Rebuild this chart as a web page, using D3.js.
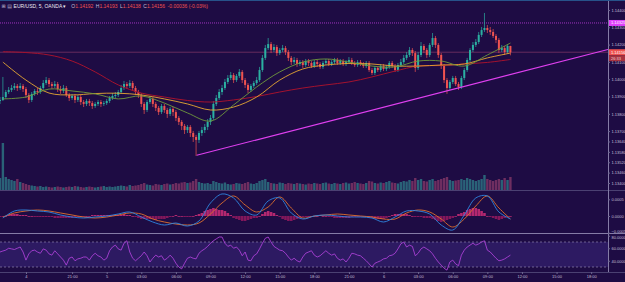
<!DOCTYPE html>
<html>
<head>
<meta charset="utf-8">
<script src="https://cdn.jsdelivr.net/npm/d3@7"></script>
<style>
  html, body { margin: 0; padding: 0; background: #1e0c44; }
  svg { display: block; }
  text { font-family: "Liberation Sans", Arial, sans-serif; }
</style>
</head>
<body>
<svg width="625" height="282"></svg>
<script>
// EUR/USD bars, time in hours counted from the Sunday 17:00 open
var firstHour = -2.25, barHours = 0.25;
var firstOpen = 1.13874;

var closes = [
  1.13880,1.13897,1.13926,1.13938,1.13949,1.13961,1.13949,1.13961,1.13943,1.13909,
  1.13880,1.13915,1.13932,1.13926,1.13949,1.13978,1.13995,1.13972,1.13961,1.13972,
  1.13943,1.13932,1.13949,1.13909,1.13891,1.13903,1.13880,1.13897,1.13868,1.13857,
  1.13874,1.13862,1.13845,1.13857,1.13868,1.13857,1.13862,1.13874,1.13891,1.13903,
  1.13909,1.13926,1.13949,1.13972,1.13961,1.13978,1.13949,1.13926,1.13909,1.13857,
  1.13822,1.13868,1.13886,1.13857,1.13834,1.13810,1.13845,1.13822,1.13799,1.13828,
  1.13810,1.13776,1.13753,1.13730,1.13706,1.13724,1.13689,1.13666,1.13649,1.13689,
  1.13706,1.13724,1.13753,1.13776,1.13857,1.13891,1.13926,1.13949,1.13984,1.14007,
  1.14024,1.13995,1.14019,1.14042,1.13995,1.13967,1.13938,1.13961,1.13978,1.13995,
  1.14053,1.14123,1.14180,1.14203,1.14169,1.14186,1.14151,1.14169,1.14180,1.14157,
  1.14123,1.14099,1.14111,1.14088,1.14099,1.14082,1.14105,1.14094,1.14076,1.14099,
  1.14088,1.14071,1.14094,1.14105,1.14088,1.14099,1.14111,1.14094,1.14105,1.14088,
  1.14099,1.14111,1.14094,1.14082,1.14099,1.14088,1.14076,1.14094,1.14053,1.14036,
  1.14065,1.14053,1.14076,1.14059,1.14071,1.14094,1.14076,1.14053,1.14082,1.14099,
  1.14123,1.14140,1.14169,1.14151,1.14065,1.14140,1.14192,1.14169,1.14140,1.14198,
  1.14238,1.14198,1.14140,1.14076,1.13995,1.13949,1.13984,1.14007,1.13972,1.13955,
  1.14007,1.14053,1.14111,1.14169,1.14198,1.14215,1.14256,1.14284,1.14296,1.14284,
  1.14273,1.14250,1.14227,1.14169,1.14180,1.14157,1.14192,1.14156];

var highs = [
  1.13897,1.14013,1.13938,1.13955,1.13967,1.13978,1.13972,1.13978,1.13972,1.13955,
  1.13920,1.13926,1.13943,1.13949,1.13961,1.13995,1.14013,1.14007,1.13984,1.13990,
  1.13984,1.13961,1.13967,1.13961,1.13920,1.13915,1.13915,1.13909,1.13909,1.13880,
  1.13886,1.13886,1.13874,1.13868,1.13880,1.13880,1.13874,1.13886,1.13903,1.13920,
  1.13926,1.13938,1.13967,1.13990,1.13984,1.13995,1.13990,1.13961,1.13938,1.13920,
  1.13868,1.13880,1.13903,1.13897,1.13868,1.13845,1.13857,1.13857,1.13834,1.13839,
  1.13839,1.13822,1.13787,1.13764,1.13741,1.13735,1.13735,1.13701,1.13678,1.13701,
  1.13724,1.13741,1.13770,1.13793,1.13874,1.13909,1.13943,1.13967,1.14001,1.14024,
  1.14042,1.14036,1.14030,1.14059,1.14053,1.14007,1.13978,1.13972,1.13990,1.14013,
  1.14071,1.14140,1.14198,1.14238,1.14215,1.14203,1.14198,1.14180,1.14198,1.14192,
  1.14169,1.14134,1.14128,1.14123,1.14111,1.14111,1.14117,1.14117,1.14105,1.14111,
  1.14111,1.14099,1.14105,1.14117,1.14117,1.14111,1.14123,1.14123,1.14117,1.14117,
  1.14111,1.14128,1.14123,1.14105,1.14111,1.14111,1.14099,1.14105,1.14105,1.14065,
  1.14076,1.14076,1.14088,1.14088,1.14082,1.14105,1.14105,1.14088,1.14094,1.14117,
  1.14140,1.14157,1.14186,1.14180,1.14163,1.14157,1.14215,1.14203,1.14180,1.14209,
  1.14267,1.14250,1.14209,1.14151,1.14088,1.14007,1.13995,1.14019,1.14019,1.13984,
  1.14019,1.14065,1.14123,1.14180,1.14215,1.14232,1.14273,1.14302,1.14383,1.14313,
  1.14302,1.14290,1.14261,1.14238,1.14198,1.14192,1.14203,1.14193];

var lows = [
  1.13857,1.13874,1.13886,1.13915,1.13926,1.13938,1.13932,1.13938,1.13926,1.13891,
  1.13862,1.13868,1.13903,1.13909,1.13915,1.13938,1.13967,1.13955,1.13943,1.13949,
  1.13926,1.13915,1.13920,1.13897,1.13874,1.13880,1.13862,1.13868,1.13851,1.13839,
  1.13845,1.13845,1.13828,1.13834,1.13845,1.13839,1.13845,1.13851,1.13862,1.13880,
  1.13891,1.13897,1.13915,1.13938,1.13943,1.13949,1.13932,1.13909,1.13891,1.13839,
  1.13799,1.13810,1.13857,1.13839,1.13816,1.13793,1.13799,1.13805,1.13776,1.13787,
  1.13787,1.13758,1.13735,1.13706,1.13683,1.13689,1.13666,1.13637,1.13556,1.13631,
  1.13672,1.13689,1.13706,1.13735,1.13764,1.13845,1.13880,1.13909,1.13938,1.13972,
  1.13995,1.13978,1.13984,1.14007,1.13978,1.13949,1.13920,1.13926,1.13949,1.13967,
  1.13984,1.14042,1.14111,1.14169,1.14151,1.14157,1.14134,1.14140,1.14157,1.14140,
  1.14105,1.14082,1.14088,1.14071,1.14076,1.14065,1.14071,1.14076,1.14065,1.14065,
  1.14071,1.14059,1.14059,1.14082,1.14076,1.14076,1.14088,1.14082,1.14082,1.14076,
  1.14076,1.14088,1.14082,1.14071,1.14071,1.14076,1.14065,1.14065,1.14042,1.14024,
  1.14024,1.14042,1.14042,1.14047,1.14047,1.14059,1.14065,1.14042,1.14042,1.14071,
  1.14088,1.14111,1.14128,1.14134,1.14042,1.14053,1.14128,1.14151,1.14123,1.14128,
  1.14186,1.14180,1.14123,1.14059,1.13978,1.13915,1.13938,1.13972,1.13961,1.13938,
  1.13943,1.13995,1.14042,1.14099,1.14157,1.14186,1.14203,1.14244,1.14273,1.14267,
  1.14256,1.14238,1.14209,1.14151,1.14157,1.14140,1.14146,1.14138];

var volumes = [
  1200,4700,1300,1100,1000,900,1100,800,700,600,
  500,450,400,350,400,300,350,300,250,300,
  350,300,250,300,350,300,400,350,300,250,
  300,350,300,250,300,350,400,300,350,300,
  350,400,450,400,350,500,400,450,500,600,
  700,550,500,450,600,550,500,600,650,550,
  600,700,650,750,800,700,750,900,1100,800,
  700,650,700,600,900,800,700,650,750,600,
  550,600,700,650,600,700,800,650,600,700,
  900,1000,1100,800,700,650,600,750,700,600,
  700,650,600,700,650,600,550,650,600,700,
  650,600,700,750,650,600,700,650,600,700,
  750,650,700,800,700,650,600,700,900,850,
  700,650,750,700,800,900,750,700,650,800,
  900,850,1000,900,1200,1000,1100,900,850,1000,
  1100,900,1000,1100,1200,1300,1000,900,950,1000,
  1100,1000,1200,1100,1000,900,1000,1100,1500,1100,
  1000,900,1000,1100,1000,1200,1000,1300];

// moving averages, read every two hours
var maHours = [-2,0,2,4,6,8,10,12,14,16,18,20,22,24,26,28,30,32,34,36,38,40,42];
var maFast = [1.13886,1.13897,1.13943,1.13932,1.13915,1.13886,1.13903,1.13862,1.13805,1.13758,1.13851,1.13955,
  1.14042,1.14099,1.14117,1.14099,1.14076,1.14071,1.14105,1.14105,1.14076,1.14140,1.14209];
var maMid = [1.14099,1.13995,1.13920,1.13909,1.13917,1.13919,1.13909,1.13886,1.13857,1.13822,1.13839,1.13897,
  1.13995,1.14059,1.14082,1.14091,1.14088,1.14076,1.14076,1.14082,1.14088,1.14123,1.14151];
var maSlow = [1.14159,1.14154,1.14140,1.14105,1.14042,1.13967,1.13920,1.13897,1.13877,1.13868,1.13880,1.13900,
  1.13926,1.13949,1.13967,1.13984,1.14013,1.14047,1.14076,1.14079,1.14088,1.14097,1.14114];

// MACD, read every hour
var macdHours = [-2,-1,0,1,2,3,4,5,6,7,8,9,10,11,12,13,14,15,16,17,18,19,20,21,22,23,24,25,26,27,28,29,30,31,32,33,34,35,36,37,38,39,40,41,42];
var macdLine = [-0.00006,0.00015,0.00018,0.00015,0.00012,0.00003,-0.00003,-0.00006,-0.00003,0.00000,0.00006,0.00012,
  -0.00003,-0.00018,-0.00027,-0.00021,-0.00030,-0.00015,0.00039,0.00066,0.00054,0.00015,0.00003,0.00045,0.00054,
  0.00009,-0.00009,0.00000,0.00003,0.00000,-0.00003,-0.00003,-0.00006,-0.00018,-0.00003,0.00015,0.00015,0.00006,
  -0.00027,-0.00042,0.00003,0.00054,0.00060,0.00012,-0.00009];
var signalLine = [-0.00003,0.00009,0.00015,0.00018,0.00015,0.00009,0.00003,-0.00003,-0.00006,-0.00003,0.00003,0.00009,
  0.00006,-0.00009,-0.00018,-0.00024,-0.00027,-0.00021,0.00006,0.00039,0.00060,0.00033,0.00012,0.00027,0.00057,
  0.00024,-0.00006,0.00000,0.00003,0.00006,0.00003,0.00000,-0.00003,-0.00009,-0.00009,0.00009,0.00018,0.00012,
  -0.00009,-0.00033,-0.00009,0.00030,0.00060,0.00024,-0.00009];
var macdHist = [
  -0.00003,-0.00003,0,0.00003,0.00006, 0.00006,0.00006,0.00003,0.00003, 0.00003,0,0,-0.00003,
  -0.00003,-0.00003,-0.00003,-0.00003, -0.00003,-0.00003,-0.00006,-0.00006, -0.00006,-0.00006,-0.00006,-0.00006,
  -0.00006,-0.00003,-0.00003,-0.00003, -0.00003,0,0,0.00003, 0.00003,0.00003,0.00003,0.00003,
  0.00003,0.00003,0.00003,0.00003, 0.00003,0.00003,0.00006,0.00003, 0.00003,0,-0.00003,-0.00006,
  -0.00009,-0.00009,-0.00009,-0.00009, -0.00009,-0.00012,-0.00009,-0.00009, -0.00009,-0.00006,-0.00003,0,
  0.00003,0,0,-0.00003, -0.00003,-0.00003,0,0.00003, 0.00006,0.00009,0.00015,0.00018,
  0.00021,0.00024,0.00021,0.00018, 0.00018,0.00015,0.00009,0.00003, -0.00006,-0.00009,-0.00012,-0.00015,
  -0.00015,-0.00012,-0.00009,-0.00006, -0.00006,0,0.00006,0.00012, 0.00015,0.00012,0.00009,0.00003,
  -0.00003,-0.00009,-0.00012,-0.00015, -0.00015,-0.00012,-0.00009,-0.00006, -0.00003,-0.00003,0,0,
  0,0,0.00003,0, 0,-0.00003,-0.00003,-0.00006, -0.00006,-0.00006,-0.00006,-0.00006,
  -0.00006,-0.00003,-0.00003,-0.00003, -0.00003,-0.00003,-0.00003,-0.00006, -0.00006,-0.00009,-0.00009,-0.00009,
  -0.00009,-0.00006,0,0.00003, 0.00006,0.00006,0.00006,0.00006, 0.00006,0.00003,0,-0.00003,
  -0.00003,-0.00003,-0.00006,-0.00006, -0.00006,-0.00009,-0.00012,-0.00015, -0.00018,-0.00015,-0.00012,-0.00009,
  -0.00006,0,0.00006,0.00009, 0.00012,0.00018,0.00021,0.00024, 0.00024,0.00021,0.00015,0.00009,
  0,-0.00003,-0.00006,-0.00009, -0.00012,-0.00009,-0.00006,-0.00003, 0];

var rsiValues = [
  54,55.6,57,60,59,58,60,62,54,41,
  51,56,57,54,52,59,57,51,49,56,
  51,46,41,33,44,46,40,43,44,46,
  46,41,48,52,48,46,41,44,56,62,
  65,59,57,68,72,54,44,40,44,48,
  54,48,38,44,49,46,48,41,44,49,
  44,36,30,27,36,44,46,44,43,52,
  56,59,63,68,72,75,78,78,68,63,
  65,60,62,57,48,54,41,40,48,51,
  59,68,76,78,70,63,60,57,56,52,
  46,41,44,40,38,46,52,54,56,49,
  46,48,52,56,52,49,51,44,41,43,
  38,44,52,51,49,48,44,40,35,30,
  36,38,40,43,44,48,49,52,59,67,
  70,62,65,63,48,52,59,62,59,56,
  51,44,38,33,28,25,38,41,35,32,
  49,57,62,65,68,65,67,70,72,57,
  54,49,44,40,41,43,46,49];

var trendHours = [14.8, 50.46];
var trendPrices = [1.13560, 1.14172];
var alertPrice = 1.14325;
var countdown = "26:33";

var priceTicks = [1.144, 1.143, 1.142, 1.141, 1.140, 1.139, 1.138, 1.137, 1.1364, 1.1358, 1.1352, 1.1346, 1.134];
var macdTicks = [0.0005, 0, -0.0005];
var rsiTicks = [80, 60, 40];
var timeTickHours = [0, 4, 7, 10, 13, 16, 19, 22, 25, 28, 31, 34, 37, 40, 43, 46, 49];
var timeTickLabels = ["4", "21:00", "5", "03:00", "06:00", "09:00", "12:00", "15:00", "18:00",
  "21:00", "6", "03:00", "06:00", "09:00", "12:00", "15:00", "18:00"];

var svg = d3.select("svg"),
    width = +svg.attr("width"),
    height = +svg.attr("height"),
    right = 608;

var upColor = "#2bb0a2", downColor = "#ef5350", axisText = "#c4bfd6";

var x = d3.scaleLinear().domain([-2.25, 50.46]).range([0, right]);
var yPrice = d3.scaleLinear().domain([1.134, 1.144]).range([183, 10]);
var yVol = d3.scaleLinear().domain([0, 5000]).range([190, 140]);
var yMacd = d3.scaleLinear().domain([-0.0005, 0.0005]).range([232.7, 199.3]);
var yRsi = d3.scaleLinear().domain([30, 70]).range([267, 242]);

var bars = closes.map(function(c, i) {
  var o = i === 0 ? firstOpen : closes[i - 1];
  return { t: firstHour + i * barHours, o: o, h: highs[i], l: lows[i], c: c,
           v: volumes[i], hist: macdHist[i], rsi: rsiValues[i], up: c >= o };
});

svg.append("rect").attr("width", width).attr("height", height).attr("fill", "#1e0c44");

var defs = svg.append("defs");
function addClip(id, y0, y1) {
  defs.append("clipPath").attr("id", id).append("rect")
    .attr("x", 0).attr("y", y0).attr("width", right).attr("height", y1 - y0);
}
addClip("clip-main", 0, 190);
addClip("clip-macd", 191, 233);
addClip("clip-rsi", 234, 272);

// ---- main pane
var main = svg.append("g").attr("clip-path", "url(#clip-main)");

main.append("g").selectAll("rect")
  .data(bars)
  .enter().append("rect")
  .attr("x", function(d) { return x(d.t) - 1.2; })
  .attr("width", 2.4)
  .attr("y", function(d) { return yVol(d.v); })
  .attr("height", function(d) { return yVol(0) - yVol(d.v); })
  .attr("fill", function(d) { return d.up ? "#2f7f8a" : "#8a3a6a"; })
  .attr("opacity", 0.75);

main.append("line")
  .attr("x1", 0).attr("x2", right)
  .attr("y1", yPrice(alertPrice)).attr("y2", yPrice(alertPrice))
  .attr("stroke", "#c23ee0").attr("stroke-width", 0.8)
  .attr("stroke-dasharray", "1,1");

var last = bars[bars.length - 1];
main.append("line")
  .attr("x1", 0).attr("x2", right)
  .attr("y1", yPrice(last.c)).attr("y2", yPrice(last.c))
  .attr("stroke", "#7a3463").attr("stroke-width", 0.8);

var candle = main.append("g").selectAll("g")
  .data(bars)
  .enter().append("g");

candle.append("line")
  .attr("x1", function(d) { return x(d.t); })
  .attr("x2", function(d) { return x(d.t); })
  .attr("y1", function(d) { return yPrice(d.h); })
  .attr("y2", function(d) { return yPrice(d.l); })
  .attr("stroke", function(d) { return d.up ? upColor : downColor; })
  .attr("stroke-width", 0.7);

candle.append("rect")
  .attr("x", function(d) { return x(d.t) - 1; })
  .attr("width", 2)
  .attr("y", function(d) { return yPrice(Math.max(d.o, d.c)); })
  .attr("height", function(d) { return Math.max(0.7, Math.abs(yPrice(d.o) - yPrice(d.c))); })
  .attr("fill", function(d) { return d.up ? upColor : downColor; });

function maLine(values) {
  return d3.line()
    .x(function(d, i) { return x(maHours[i]); })
    .y(function(d) { return yPrice(d); })
    .curve(d3.curveCatmullRom)(values);
}
main.append("path").attr("d", maLine(maSlow)).attr("fill", "none")
  .attr("stroke", "#a3122e").attr("stroke-width", 1);
main.append("path").attr("d", maLine(maMid)).attr("fill", "none")
  .attr("stroke", "#e8a832").attr("stroke-width", 0.9);
main.append("path").attr("d", maLine(maFast)).attr("fill", "none")
  .attr("stroke", "#6f9a3c").attr("stroke-width", 0.9);

main.append("line")
  .attr("x1", x(trendHours[0])).attr("y1", yPrice(trendPrices[0]))
  .attr("x2", x(trendHours[1])).attr("y2", yPrice(trendPrices[1]))
  .attr("stroke", "#e040f0").attr("stroke-width", 1.1);

// ---- MACD pane
var macd = svg.append("g").attr("clip-path", "url(#clip-macd)");

macd.append("g").selectAll("rect")
  .data(bars)
  .enter().append("rect")
  .attr("x", function(d) { return x(d.t) - 1.3; })
  .attr("width", 2.6)
  .attr("y", function(d) { return Math.min(yMacd(0), yMacd(d.hist)); })
  .attr("height", function(d) { return Math.max(0.8, Math.abs(yMacd(d.hist) - yMacd(0))); })
  .attr("fill", function(d) { return d.hist >= 0 ? "#d8307a" : "#9c1a62"; })
  .attr("opacity", 0.8);

function macdPath(values) {
  return d3.line()
    .x(function(d, i) { return x(macdHours[i]); })
    .y(function(d) { return yMacd(d); })
    .curve(d3.curveCatmullRom)(values);
}
macd.append("path").attr("d", macdPath(signalLine)).attr("fill", "none")
  .attr("stroke", "#e0702e").attr("stroke-width", 0.9);
macd.append("path").attr("d", macdPath(macdLine)).attr("fill", "none")
  .attr("stroke", "#2f86e0").attr("stroke-width", 0.9);

// ---- RSI pane
var rsi = svg.append("g").attr("clip-path", "url(#clip-rsi)");

rsi.append("rect")
  .attr("x", 0).attr("width", right)
  .attr("y", yRsi(70)).attr("height", yRsi(30) - yRsi(70))
  .attr("fill", "#2d1a62");

[70, 30].forEach(function(level) {
  rsi.append("line")
    .attr("x1", 0).attr("x2", right)
    .attr("y1", yRsi(level)).attr("y2", yRsi(level))
    .attr("stroke", "#9d96bc").attr("stroke-width", 0.6)
    .attr("stroke-dasharray", "2,2");
});

rsi.append("path")
  .attr("d", d3.line()
    .x(function(d) { return x(d.t); })
    .y(function(d) { return yRsi(d.rsi); })(bars))
  .attr("fill", "none")
  .attr("stroke", "#b845e2").attr("stroke-width", 0.8);

// ---- separators
var sep = svg.append("g").attr("stroke-width", 1);
sep.append("line").attr("x1", 0).attr("x2", width).attr("y1", 190.5).attr("y2", 190.5).attr("stroke", "#4b4172");
sep.append("line").attr("x1", 0).attr("x2", width).attr("y1", 233.5).attr("y2", 233.5).attr("stroke", "#857ca6");
sep.append("line").attr("x1", 0).attr("x2", width).attr("y1", 272.5).attr("y2", 272.5).attr("stroke", "#4b4172");
sep.append("line").attr("x1", right + 0.5).attr("x2", right + 0.5).attr("y1", 0).attr("y2", 272).attr("stroke", "#857ca6");
svg.append("rect").attr("width", width).attr("height", 1).attr("fill", "#27528a");

// ---- axes
function styleAxis(g) {
  g.select(".domain").remove();
  g.selectAll("line").attr("stroke", "#6d6590");
  g.selectAll("text").attr("fill", axisText).style("font-size", "4px")
    .style("font-family", "'Liberation Sans', Arial, sans-serif");
}

svg.append("g")
  .attr("transform", "translate(" + right + ",0)")
  .call(d3.axisRight(yPrice).tickValues(priceTicks).tickFormat(d3.format(".5f")).tickSize(2).tickPadding(1.5))
  .call(styleAxis);

var macdAxis = svg.append("g")
  .attr("transform", "translate(" + right + ",0)")
  .call(d3.axisRight(yMacd).tickValues(macdTicks).tickFormat(d3.format(".4f")).tickSize(2).tickPadding(1.5))
  .call(styleAxis);
// the lowest MACD label sits right on the pane border, lift it a little
macdAxis.selectAll("text").filter(function(d) { return d < 0; }).attr("dy", "-0.05em");

var rsiAxis = svg.append("g")
  .attr("transform", "translate(" + right + ",0)")
  .call(d3.axisRight(yRsi).tickValues(rsiTicks).tickFormat(d3.format(".4f")).tickSize(2).tickPadding(1.5))
  .call(styleAxis);
rsiAxis.selectAll("text").filter(function(d) { return d === 80; }).attr("dy", "0.7em");

svg.append("g")
  .attr("transform", "translate(0,272)")
  .call(d3.axisBottom(x).tickValues(timeTickHours)
    .tickFormat(function(d, i) { return timeTickLabels[i]; }).tickSize(2).tickPadding(1.5))
  .call(styleAxis);

// ---- price tags on the right
function priceTag(y, fill, label, color) {
  svg.append("rect").attr("x", right + 1).attr("y", y - 3).attr("width", width - right - 1).attr("height", 6)
    .attr("fill", fill);
  svg.append("text").attr("x", right + 3).attr("y", y + 1.5)
    .attr("fill", color).style("font-size", "4px").text(label);
}
priceTag(yPrice(alertPrice), "#e040fb", d3.format(".5f")(alertPrice), "#ffffff");
priceTag(yPrice(last.c), "#ef5350", d3.format(".5f")(last.c), "#ffffff");
priceTag(yPrice(last.c) + 6, "#a8323f", countdown, "#f4d0d4");

// ---- header
var prevClose = closes[closes.length - 2];
var change = last.c - prevClose;
var header = svg.append("text").attr("x", 1.5).attr("y", 7.5).style("font-size", "5px");
header.append("tspan").attr("fill", "#b9b4cc").style("font-family", "'DejaVu Sans'").text("⊞ ▤ ");
header.append("tspan").attr("fill", "#ecebf3").text("EUR/USD, 5, OANDA ▾");
[["O", last.o], ["H", last.h], ["L", last.l], ["C", last.c]].forEach(function(p, i) {
  header.append("tspan").attr("dx", i === 0 ? 5 : 2.5).attr("fill", "#c4bfd6").text(p[0]);
  header.append("tspan").attr("fill", "#ef5350").text(d3.format(".5f")(p[1]));
});
header.append("tspan").attr("dx", 2.5).attr("fill", "#ef5350")
  .text(d3.format(".5f")(change).replace("−", "-") + " (" + d3.format(".2%")(change / prevClose).replace("−", "-") + ")");
</script>
</body>
</html>
